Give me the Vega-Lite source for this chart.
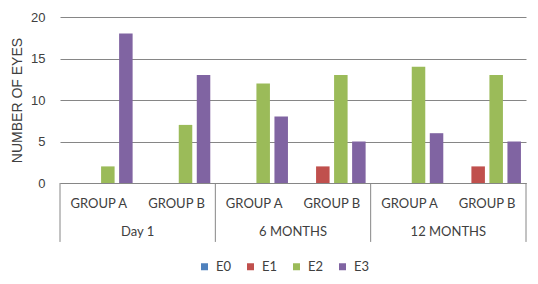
{
  "$schema": "https://vega.github.io/schema/vega-lite/v6.json",
  "width": 466,
  "height": 166,
  "padding": {"left": 10, "top": 11, "right": 12, "bottom": 5},
  "background": "white",
  "config": {"view": {"stroke": null}},
  "data": {
    "values": [
      {"time": "Day 1", "key": "Day 1|GROUP A", "series": "E0", "value": 0},
      {"time": "Day 1", "key": "Day 1|GROUP A", "series": "E1", "value": 0},
      {"time": "Day 1", "key": "Day 1|GROUP A", "series": "E2", "value": 2},
      {"time": "Day 1", "key": "Day 1|GROUP A", "series": "E3", "value": 18},
      {"time": "Day 1", "key": "Day 1|GROUP B", "series": "E0", "value": 0},
      {"time": "Day 1", "key": "Day 1|GROUP B", "series": "E1", "value": 0},
      {"time": "Day 1", "key": "Day 1|GROUP B", "series": "E2", "value": 7},
      {"time": "Day 1", "key": "Day 1|GROUP B", "series": "E3", "value": 13},
      {"time": "6 MONTHS", "key": "6 MONTHS|GROUP A", "series": "E0", "value": 0},
      {"time": "6 MONTHS", "key": "6 MONTHS|GROUP A", "series": "E1", "value": 0},
      {"time": "6 MONTHS", "key": "6 MONTHS|GROUP A", "series": "E2", "value": 12},
      {"time": "6 MONTHS", "key": "6 MONTHS|GROUP A", "series": "E3", "value": 8},
      {"time": "6 MONTHS", "key": "6 MONTHS|GROUP B", "series": "E0", "value": 0},
      {"time": "6 MONTHS", "key": "6 MONTHS|GROUP B", "series": "E1", "value": 2},
      {"time": "6 MONTHS", "key": "6 MONTHS|GROUP B", "series": "E2", "value": 13},
      {"time": "6 MONTHS", "key": "6 MONTHS|GROUP B", "series": "E3", "value": 5},
      {"time": "12 MONTHS", "key": "12 MONTHS|GROUP A", "series": "E0", "value": 0},
      {"time": "12 MONTHS", "key": "12 MONTHS|GROUP A", "series": "E1", "value": 0},
      {"time": "12 MONTHS", "key": "12 MONTHS|GROUP A", "series": "E2", "value": 14},
      {"time": "12 MONTHS", "key": "12 MONTHS|GROUP A", "series": "E3", "value": 6},
      {"time": "12 MONTHS", "key": "12 MONTHS|GROUP B", "series": "E0", "value": 0},
      {"time": "12 MONTHS", "key": "12 MONTHS|GROUP B", "series": "E1", "value": 2},
      {"time": "12 MONTHS", "key": "12 MONTHS|GROUP B", "series": "E2", "value": 13},
      {"time": "12 MONTHS", "key": "12 MONTHS|GROUP B", "series": "E3", "value": 5}
    ]
  },
  "layer": [
    {
      "mark": {"type": "bar"},
      "encoding": {
        "x": {
          "field": "key", "type": "nominal",
          "scale": {
            "domain": ["Day 1|GROUP A", "Day 1|GROUP B", "6 MONTHS|GROUP A", "6 MONTHS|GROUP B", "12 MONTHS|GROUP A", "12 MONTHS|GROUP B"],
            "paddingInner": 0, "paddingOuter": 0
          },
          "axis": {
            "title": null, "grid": false, "ticks": false, "labelAngle": 0,
            "labelExpr": "split(datum.label, '|')[1]",
            "labelPadding": 14, "labelFont": "Lato", "labelFontSize": 13,
            "labelColor": "#404040", "domainColor": "#868686", "domainWidth": 1
          }
        },
        "xOffset": {
          "field": "series", "type": "nominal", "sort": ["E0", "E1", "E2", "E3"],
          "scale": {"paddingInner": 0.25, "paddingOuter": 0.28}
        },
        "y": {
          "field": "value", "type": "quantitative",
          "scale": {"domain": [0, 20]},
          "axis": {
            "values": [0, 5, 10, 15, 20], "grid": true, "gridColor": "#868686",
            "domain": false, "ticks": false, "labelPadding": 15,
            "labelFont": "Liberation Sans", "labelFontSize": 13, "labelColor": "#404040",
            "title": "NUMBER OF EYES", "titleFont": "Liberation Sans", "titleFontSize": 14,
            "titleFontWeight": "normal", "titleColor": "#404040", "titlePadding": 6
          }
        },
        "color": {
          "field": "series", "type": "nominal",
          "scale": {"domain": ["E0", "E1", "E2", "E3"], "range": ["#4F81BD", "#C0504D", "#9BBB59", "#8064A2"]},
          "legend": {
            "orient": "none", "legendX": 138, "legendY": 243, "direction": "horizontal",
            "title": null, "symbolType": "square", "symbolSize": 49, "symbolStrokeWidth": 0,
            "labelFont": "Lato", "labelFontSize": 13, "labelColor": "#404040",
            "labelOffset": 5, "columnPadding": 12
          }
        }
      }
    },
    {
      "transform": [{"filter": "datum.series == 'E0' && datum.key == 'Day 1|GROUP A'"}],
      "mark": {"type": "rule", "color": "#868686", "strokeWidth": 1},
      "encoding": {
        "x": {"field": "key", "type": "nominal", "bandPosition": 0},
        "y": {"datum": 0},
        "y2": {"datum": -7.1}
      }
    },
    {
      "transform": [{"filter": "datum.series == 'E0' && indexof(datum.key, 'GROUP B') >= 0"}],
      "mark": {"type": "rule", "color": "#868686", "strokeWidth": 1},
      "encoding": {
        "x": {"field": "key", "type": "nominal", "bandPosition": 1},
        "y": {"datum": 0},
        "y2": {"datum": -7.1}
      }
    },
    {
      "transform": [{"filter": "datum.series == 'E0' && indexof(datum.key, 'GROUP B') >= 0"}],
      "mark": {"type": "text", "font": "Lato", "fontSize": 13, "color": "#404040", "baseline": "middle", "align": "center"},
      "encoding": {
        "x": {"field": "key", "type": "nominal", "bandPosition": 0},
        "y": {"datum": -5.9},
        "text": {"field": "time"}
      }
    }
  ]
}
